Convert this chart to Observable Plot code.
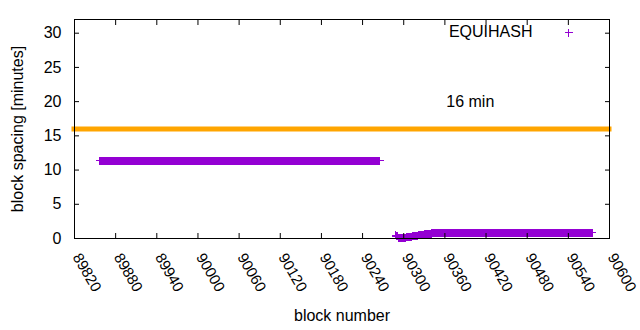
<!DOCTYPE html>
<html>
<head>
<meta charset="utf-8">
<script src="https://cdn.jsdelivr.net/npm/d3@7"></script>
<script src="https://cdn.jsdelivr.net/npm/@observablehq/plot@0.6"></script>
<style>
  html, body { margin: 0; padding: 0; background: #fff; }
  #chart svg { display: block; font-family: "Liberation Sans", Arial, sans-serif; }
</style>
</head>
<body>
<div id="chart"></div>
<script>
// ---- data ----
const xTicks = [89820, 89880, 89940, 90000, 90060, 90120, 90180, 90240, 90300, 90360, 90420, 90480, 90540, 90600];
const yTicks = [0, 5, 10, 15, 20, 25, 30];
// runs of consecutive blocks sharing the same block spacing (minutes)
const runStart = [89857, 90288, 90289, 90292, 90304, 90313, 90321, 90331, 90341, 90347];
const runEnd   = [90265, 90288, 90291, 90303, 90312, 90320, 90330, 90340, 90346, 90575];
const runValue = [11.35, 0.5, 0.3, 0.05, 0.2, 0.35, 0.5, 0.65, 0.75, 0.83];
const targetSpacing = [16];
const seriesName = "EQUIHASH";
const targetLabel = "16 min";
const targetLabelPos = [90362, 20];

const points = [];
runStart.forEach((s, i) => {
  for (let b = s; b <= runEnd[i]; b++) points.push({block: b, spacing: runValue[i]});
});

const purple = "#9400D3";
const plusSymbol = {
  draw(ctx, size) {
    const r = Math.sqrt(size / Math.PI);
    ctx.moveTo(-r, 0); ctx.lineTo(r, 0);
    ctx.moveTo(0, -r); ctx.lineTo(0, r);
  }
};
const fs = 16;
const tfs = 15;

const chart = Plot.plot({
  width: 640,
  height: 330,
  marginLeft: 74,
  marginRight: 31,
  marginTop: 19,
  marginBottom: 92,
  style: {fontFamily: "'Liberation Sans', Arial, sans-serif", fontSize: fs + "px", color: "#000"},
  x: {domain: [89820, 90600], ticks: xTicks},
  y: {domain: [0, 32], ticks: yTicks},
  marks: [
    Plot.ruleY(targetSpacing, {stroke: "#FFA500", strokeWidth: 5, strokeLinecap: "square"}),
    Plot.dot(points, {x: "block", y: "spacing", symbol: plusSymbol, r: 4, stroke: purple, fill: "none", strokeWidth: 1, shapeRendering: "crispEdges"}),
    Plot.frame({stroke: "#000", strokeWidth: 1}),
    // inward ticks on all four sides
    Plot.axisX(xTicks, {anchor: "bottom", tickSize: -5, tickFormat: () => "", label: null, stroke: "#000"}),
    Plot.axisX(xTicks, {anchor: "top", tickSize: -5, tickFormat: () => "", label: null, stroke: "#000"}),
    Plot.axisY(yTicks, {anchor: "left", tickSize: -5, tickFormat: () => "", label: null, stroke: "#000"}),
    Plot.axisY(yTicks, {anchor: "right", tickSize: -5, tickFormat: () => "", label: null, stroke: "#000"}),
    // tick labels
    Plot.text(yTicks, {y: d => d, text: d => String(d), frameAnchor: "left", dx: -13, textAnchor: "end", fontSize: fs, fill: "#000"}),
    Plot.text(xTicks, {x: d => d, text: d => String(d), frameAnchor: "bottom", dx: 2, dy: 16, rotate: 60, textAnchor: "start", lineAnchor: "middle", fontSize: tfs, fill: "#000"}),
    // axis titles
    Plot.text(["block number"], {frameAnchor: "bottom", dy: 77, textAnchor: "middle", lineAnchor: "middle", fontSize: fs, fill: "#000"}),
    Plot.text(["block spacing [minutes]"], {frameAnchor: "left", dx: -57, rotate: -90, textAnchor: "middle", lineAnchor: "middle", fontSize: fs, fill: "#000"}),
    // legend
    Plot.text([seriesName], {frameAnchor: "top-right", dx: -77, dy: 12, textAnchor: "end", lineAnchor: "middle", fontSize: fs, fill: "#000"}),
    Plot.dot([seriesName], {frameAnchor: "top-right", dx: -41, dy: 13, symbol: plusSymbol, r: 4, stroke: purple, fill: "none", shapeRendering: "crispEdges"}),
    // annotation
    Plot.text([targetLabel], {x: () => targetLabelPos[0], y: () => targetLabelPos[1], textAnchor: "start", lineAnchor: "middle", fontSize: fs, fill: "#000"})
  ]
});
document.getElementById("chart").appendChild(chart);
</script>
</body>
</html>
